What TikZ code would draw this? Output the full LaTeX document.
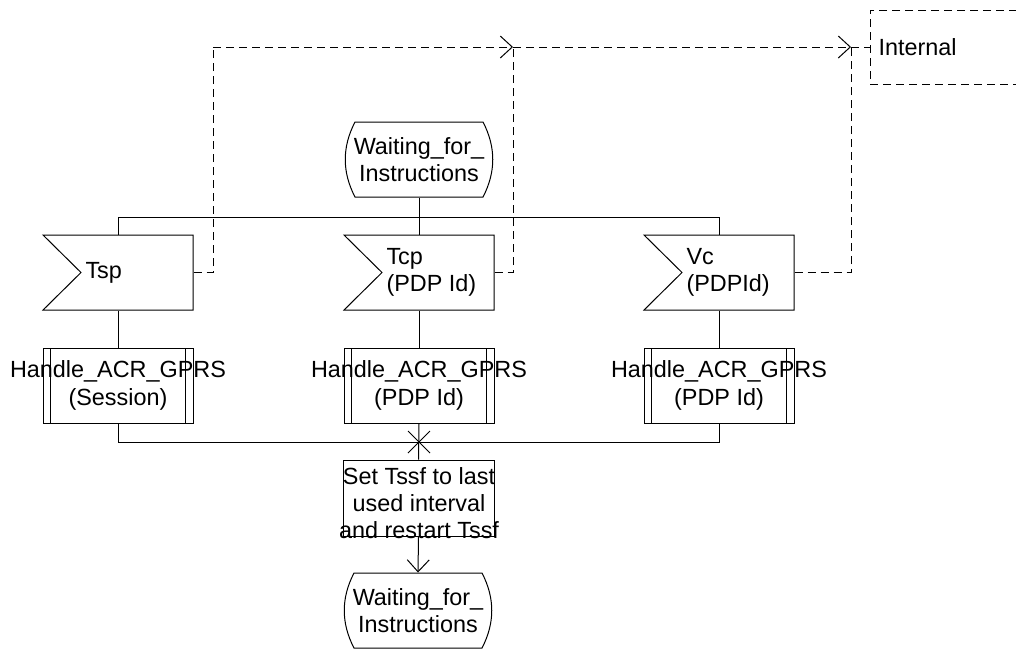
\documentclass[tikz,border=0pt]{standalone}
\usepackage{fontspec}
\setmainfont{Liberation Sans}
\usetikzlibrary{arrows.meta,calc}
\newcommand\drawstate[1]{\draw[shift={(#1.center)}] (-64,-37.5) -- (64,-37.5) .. controls (77,-12.5) and (77,12.5) .. (64,37.5) -- (-64,37.5) .. controls (-77,12.5) and (-77,-12.5) .. cycle;}
\newcommand\drawsig[1]{\draw[shift={(#1.center)}] (-75,-37.5) -- (75,-37.5) -- (75,37.5) -- (-75,37.5) -- (-37,0) -- cycle;}
\newcommand\drawproc[1]{\draw[shift={(#1.center)}] (-75,-37.5) rectangle (75,37.5) (-67.5,-37.5) -- (-67.5,37.5) (67.5,-37.5) -- (67.5,37.5);}
\begin{document}
\begin{tikzpicture}[x=0.5pt,y=-0.5pt, line width=0.5pt,
 every node/.style={font=\fontsize{11.7}{13.6}\selectfont},
 box/.style={minimum width=75pt,minimum height=37.5pt,inner sep=0pt,align=center},
 lbl/.style={align=left,anchor=west,inner sep=0pt},
 dsh/.style={dash pattern=on 4pt off 2.5pt},
 barb/.style={-{Straight Barb[length=6pt,width=11pt]}}]
\useasboundingbox (0,0) rectangle (1016,650);
% states
\node[box,minimum width=74pt] (st1) at (419,159.5) {Waiting\_for\_\\Instructions};
\drawstate{st1}
\node[box,minimum width=74pt] (st2) at (418,610.5) {Waiting\_for\_\\Instructions};
\drawstate{st2}
% input signals
\node[box] (tsp) at (118,272.5) {};
\node[box] (tcp) at (419,272.5) {};
\node[box] (vc) at (719,272.5) {};
\drawsig{tsp}\drawsig{tcp}\drawsig{vc}
\node[lbl] (tspl) at (85,272.5) {Tsp};
\node[lbl] (tcpl) at (386,272.5) {Tcp\\(PDP Id)};
\node[lbl] (vcl) at (686,272.5) {Vc\\(PDPId)};
% procedures
\node[box] (p1) at (118,385.5) {Handle\_ACR\_GPRS\\(Session)};
\node[box] (p2) at (419,385.5) {Handle\_ACR\_GPRS\\(PDP Id)};
\node[box] (p3) at (719,385.5) {Handle\_ACR\_GPRS\\(PDP Id)};
\drawproc{p1}\drawproc{p2}\drawproc{p3}
% task
\node[box,draw,minimum width=75.5pt,minimum height=38pt] (task) at (418.5,498) {};
\node[align=center,inner sep=0pt] (taskl) at (419,503) {Set Tssf to last\\used interval\\and restart Tssf};
% internal
\node[draw,dsh,minimum width=80pt,minimum height=37pt,inner sep=0pt] (int) at (950,47) {};
\node[lbl] (intl) at (878,47) {Internal};
% junctions
\coordinate (j1) at (419,217);
\coordinate (j2) at (419,442);
\coordinate (c1) at (213,47);
\coordinate (c2) at (513,47);
\coordinate (c3) at (851,47);
% solid connectors
\draw (st1.south) -- (j1);
\draw (tsp.north) -- (tsp.north |- j1) -- (vc.north |- j1) -- (vc.north);
\draw (j1) -- (tcp.north);
\draw (tsp.south) -- (p1.north);
\draw (tcp.south) -- (p2.north);
\draw (vc.south) -- (p3.north);
\draw (p1.south) -- (p1.south |- j2) -- (p3.south |- j2) -- (p3.south);
\draw (p2.south) -- (task.north);
\draw ($(j2)+(-11,-11)$) -- ($(j2)+(11,11)$) ($(j2)+(-11,11)$) -- ($(j2)+(11,-11)$);
\draw[barb] (task.south) -- (st2.north);
% dashed connectors
\draw[dsh] (tsp.east) -- (tsp.east -| c1) -- (c1);
\draw[dsh,barb] (c1) -- (c2);
\draw[dsh] (tcp.east) -- (tcp.east -| c2) -- (c2);
\draw[dsh,barb] (c2) -- (c3);
\draw[dsh] (vc.east) -- (vc.east -| c3) -- (c3);
\draw[dsh] (c3) -- (int.west);
\end{tikzpicture}
\end{document}
